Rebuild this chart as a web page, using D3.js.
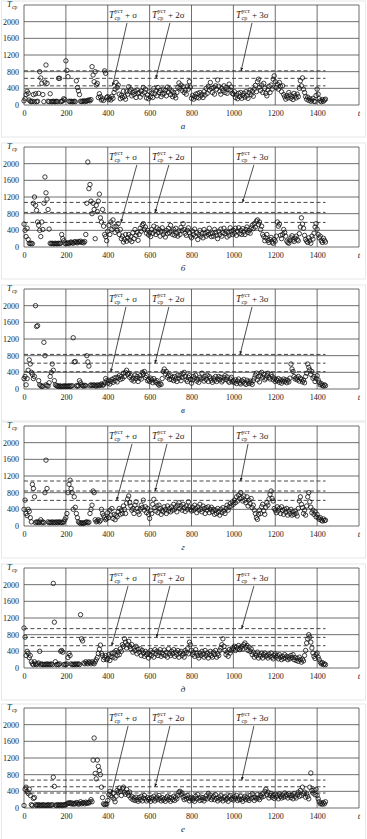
<!DOCTYPE html>
<html>
<head>
<meta charset="utf-8">
<script src="https://cdn.jsdelivr.net/npm/d3@7"></script>
<style>
  body { margin: 0; background: #fff; }
  text { font-family: "Liberation Serif", "DejaVu Serif", serif; fill: #222; }
</style>
</head>
<body>
<svg id="chart" width="367" height="839"></svg>
<script>
// time axis (minutes), one value every 5 min
const times = d3.range(0, 1441, 5);

const seriesA = [
  100,150,250,330,280,120,90,80,90,250,80,270,80,90,280,800,650,520,250,80,
  550,960,520,90,80,270,80,80,90,80,80,90,80,640,640,80,90,100,150,130,
  1060,830,680,90,80,90,80,80,90,80,580,420,340,250,90,80,90,100,80,100,
  90,110,120,100,130,920,720,560,800,480,520,180,270,200,120,150,110,820,760,180,
  200,130,170,120,210,160,300,380,540,420,480,260,150,230,180,330,200,140,320,260,
  440,330,380,220,300,250,330,180,360,280,300,190,330,260,420,300,380,170,240,150,
  320,200,280,180,400,270,340,220,420,300,350,200,260,380,280,350,220,430,310,390,
  250,340,200,300,230,170,300,420,530,400,480,350,440,300,360,260,450,380,560,430,
  160,230,140,200,260,180,280,170,300,220,260,180,320,240,400,280,450,360,540,400,
  300,420,260,460,380,600,450,330,260,400,340,460,300,420,280,380,500,360,430,280,
  260,320,180,240,150,280,200,300,160,230,280,190,320,220,160,300,360,250,330,210,
  380,470,320,560,620,430,350,480,300,520,400,280,220,360,450,300,480,380,620,700,
  560,420,500,380,540,450,320,460,250,200,140,220,170,300,240,160,200,130,280,220,
  170,260,200,400,580,460,650,380,300,200,140,190,110,150,90,120,160,90,80,230,
  380,260,150,100,80,130,90,120,140
];

const seriesB = [
  550,400,250,450,180,90,80,90,80,1050,1200,1000,880,600,520,400,250,600,420,1050,
  1680,1300,1150,900,430,90,80,90,80,80,90,80,80,90,80,90,300,200,150,90,
  80,100,90,80,110,120,100,90,120,130,110,100,130,120,140,110,120,100,130,300,
  1050,2040,1400,1500,1100,800,1050,900,200,1000,850,1100,1270,700,600,900,500,300,250,150,
  380,520,300,600,420,650,480,350,500,400,560,300,420,200,260,120,180,300,140,220,
  300,170,250,130,340,200,420,280,350,160,300,450,380,520,560,420,480,330,400,290,
  350,250,420,330,500,380,300,460,350,420,260,380,460,300,360,240,400,320,450,340,
  520,380,300,420,280,450,330,260,380,300,470,400,560,420,330,280,400,460,340,260,
  220,380,300,430,260,340,180,300,400,260,320,220,420,330,260,360,300,450,320,250,
  330,260,420,350,280,200,380,300,430,260,340,450,320,380,240,350,280,460,380,300,
  400,330,450,280,380,460,320,400,300,440,360,300,420,480,350,400,330,460,520,440,
  560,480,620,650,540,600,420,500,300,250,150,220,300,160,110,180,230,120,90,180,
  140,260,600,500,550,280,200,300,420,350,260,140,110,90,160,220,270,170,130,210,
  260,180,150,320,480,700,550,450,280,180,140,110,220,150,90,260,190,330,480,560,
  430,300,220,260,150,110,210,160,120
];

const seriesC = [
  250,300,100,250,450,700,600,400,350,250,300,2000,1500,1520,200,100,80,60,70,1120,
  800,100,80,70,150,300,400,600,450,200,100,80,70,60,80,60,60,70,60,80,
  60,70,60,80,60,70,80,1230,650,660,80,70,80,200,150,100,80,70,90,80,
  800,650,550,80,100,80,90,100,80,70,100,90,80,100,120,90,100,150,250,200,
  140,210,120,180,230,160,260,200,280,170,270,320,230,300,250,380,300,400,450,350,
  380,280,320,220,260,190,330,250,300,180,260,320,240,400,350,420,280,320,200,230,
  180,260,220,150,250,190,160,200,120,90,130,110,250,420,480,360,420,280,320,230,
  320,230,280,200,300,240,180,330,260,320,200,280,360,400,300,220,180,280,320,230,
  140,220,300,260,330,190,230,160,280,240,380,260,190,300,230,330,180,300,260,210,
  160,260,210,300,180,240,300,220,280,170,210,270,320,230,290,190,160,240,280,170,
  200,160,220,130,190,240,150,120,200,170,230,140,110,210,170,130,190,150,110,200,
  260,330,380,220,300,170,320,400,280,350,220,260,320,380,280,240,350,300,220,260,
  180,230,200,250,160,220,140,190,240,180,220,150,210,170,260,600,480,420,300,240,
  270,220,300,190,260,230,170,210,150,300,380,600,520,460,350,420,260,300,180,250,
  320,220,160,100,130,90,70,100,80
];

const seriesD = [
  400,620,300,250,400,350,200,100,1000,900,700,80,100,90,80,100,150,80,100,80,
  800,1580,900,100,80,90,80,100,80,90,80,100,80,90,100,80,90,80,100,150,
  200,300,800,1000,1100,900,800,400,700,450,300,200,100,80,60,80,70,60,80,90,
  100,80,90,300,400,500,840,800,150,100,120,150,100,130,400,300,250,200,150,180,
  320,200,380,260,420,180,280,150,260,220,340,420,280,380,300,480,400,300,550,650,
  720,560,480,380,420,300,500,580,420,340,280,400,500,440,620,380,460,320,420,280,
  180,380,300,520,640,440,360,480,320,500,420,280,380,340,460,400,300,480,360,420,
  340,460,380,520,400,460,340,500,560,420,480,380,520,440,350,480,400,580,460,400,
  360,450,380,500,420,320,460,380,520,400,340,480,420,300,440,380,460,320,400,450,
  340,400,280,380,300,420,340,260,400,320,440,360,300,420,500,380,460,540,480,580,
  520,620,560,700,600,740,660,800,680,600,720,620,560,700,480,620,540,660,440,500,
  380,300,200,160,280,380,300,460,520,360,280,450,560,500,650,760,840,660,600,420,
  380,320,460,360,420,300,460,380,280,400,330,420,260,360,300,400,260,340,280,360,
  300,240,420,600,700,520,440,300,380,260,480,700,800,580,450,320,380,280,340,220,
  280,200,160,200,140,120,170,130,140
];

const seriesE = [
  960,740,300,400,350,250,300,150,100,80,150,100,80,100,120,400,80,100,80,80,
  90,80,100,80,90,80,100,80,2030,1100,150,80,90,80,100,400,420,380,80,90,
  80,100,250,350,300,100,80,90,80,100,80,90,100,80,1280,700,650,120,100,150,
  120,100,150,130,100,150,120,100,150,200,250,350,450,550,350,300,200,250,300,200,
  220,320,180,280,350,260,380,240,420,300,380,320,460,400,560,520,700,620,480,560,
  640,520,460,560,380,480,420,520,340,450,380,460,300,420,360,280,400,320,360,240,
  320,420,300,380,260,440,340,400,300,380,440,280,360,320,430,300,380,260,460,350,
  300,400,340,440,280,380,320,420,260,360,400,300,340,260,420,370,460,340,620,560,
  420,320,380,280,440,360,300,240,360,300,400,330,260,420,300,360,240,320,400,300,
  260,380,320,420,260,340,300,420,480,560,700,520,420,320,380,280,440,360,420,480,
  460,520,420,500,460,540,440,480,520,460,560,600,500,540,420,500,400,460,320,380,
  260,340,300,380,240,320,280,360,240,320,360,280,300,240,330,280,360,260,220,300,
  340,260,300,220,320,260,200,280,230,320,240,280,200,260,220,300,250,320,200,250,
  180,230,160,260,200,140,210,170,300,420,600,700,800,740,620,480,360,280,230,320,
  360,260,200,140,100,130,80,100,80
];

const seriesF = [
  60,450,500,400,350,450,300,80,60,230,250,80,60,70,80,60,70,60,80,70,
  60,70,60,80,70,60,70,80,740,520,70,60,80,70,60,80,70,60,80,70,
  80,100,120,110,130,100,120,90,110,100,130,120,90,110,150,100,120,130,100,140,
  110,130,120,150,200,150,1150,1680,830,700,1150,1000,900,800,500,250,100,80,90,100,
  180,320,400,300,260,350,220,150,280,420,380,480,400,300,460,500,380,330,450,360,
  300,380,240,280,200,240,180,260,200,160,250,200,280,170,240,300,220,170,250,200,
  230,160,250,210,280,170,220,260,200,300,230,170,250,190,220,160,240,280,200,250,
  160,240,200,280,180,260,220,300,380,400,320,360,260,200,280,220,300,240,170,230,
  260,190,230,160,280,220,320,240,180,260,200,250,170,230,290,220,350,260,310,200,
  240,280,200,320,230,170,260,210,290,220,170,250,280,200,230,160,270,300,210,240,
  190,270,230,300,180,240,200,280,210,160,240,280,200,260,220,180,300,230,340,250,
  180,260,220,320,240,200,300,260,340,280,400,450,320,380,240,300,350,260,300,230,
  330,260,300,220,340,280,240,310,260,360,280,320,240,340,300,250,300,220,350,280,
  240,320,380,280,420,300,500,340,380,260,340,280,220,500,840,420,360,430,320,450,
  300,220,150,100,120,90,130,100,150
];

const allSeries = [seriesA, seriesB, seriesC, seriesD, seriesE, seriesF];
const panelLetters = ["а", "б", "в", "г", "д", "е"];

const xTicks = [0, 200, 400, 600, 800, 1000, 1200, 1400];
const yTicks = [0, 400, 800, 1200, 1600, 2000];

// threshold levels T_ср^уст + σ, + 2σ, + 3σ for each panel
const sigma1 = [460, 590, 415, 615, 535, 360];
const sigma2 = [640, 830, 620, 840, 735, 510];
const sigma3 = [820, 1070, 830, 1080, 945, 670];

// where the arrows point (t) and where they start (t)
const tipT = [[423, 630, 1037], [463, 626, 1044], [415, 626, 1032], [443, 626, 1035], [419, 633, 1040], [419, 626, 1040]];
const startT = [[492, 697, 1089], [539, 692, 1098], [487, 692, 1089], [516, 683, 1070], [497, 697, 1098], [497, 697, 1098]];

const zeroY = [105, 247, 389, 526, 668, 808];
const plotH = 100;

const svg = d3.select("#chart");

svg.append("defs").append("marker")
    .attr("id", "arrow")
    .attr("viewBox", "0 0 10 10")
    .attr("refX", 9).attr("refY", 5)
    .attr("markerWidth", 4.5).attr("markerHeight", 4.5)
    .attr("orient", "auto")
  .append("path")
    .attr("d", "M0,1 L10,5 L0,9 z")
    .attr("fill", "#222");

const x = d3.scaleLinear().domain([0, 1600]).range([24, 359]);

const drawLabel = (g, lx, ly, suffix) => {
    g.append("text").attr("x", lx).attr("y", ly)
        .attr("font-size", 9.5).attr("font-style", "italic").text("T");
    g.append("text").attr("x", lx + 5.5).attr("y", ly - 4.5)
        .attr("font-size", 6).text("уст");
    g.append("text").attr("x", lx + 5.5).attr("y", ly + 2)
        .attr("font-size", 6).text("ср");
    g.append("text").attr("x", lx + 16).attr("y", ly)
        .attr("font-size", 9).text(suffix);
};

allSeries.forEach((series, i) => {
    const z = zeroY[i];
    const y = d3.scaleLinear().domain([0, 2400]).range([z, z - plotH]);
    const g = svg.append("g").attr("class", "panel");

    // faint frame around the panel
    g.append("rect")
        .attr("x", 1.5).attr("y", z - plotH - 4)
        .attr("width", 364).attr("height", plotH + 36)
        .attr("fill", "none").attr("stroke", "#e2e2e2").attr("stroke-width", 0.8);

    // grid
    g.selectAll("line.hgrid")
        .data(d3.range(0, 2401, 400))
        .enter().append("line")
        .attr("class", "hgrid")
        .attr("x1", x(0)).attr("x2", x(1600))
        .attr("y1", d => y(d)).attr("y2", d => y(d))
        .attr("stroke", "#4a4a4a").attr("stroke-width", 0.8);

    g.selectAll("line.vgrid")
        .data(d3.range(0, 1601, 200))
        .enter().append("line")
        .attr("class", "vgrid")
        .attr("x1", d => x(d)).attr("x2", d => x(d))
        .attr("y1", y(0)).attr("y2", y(2400))
        .attr("stroke", "#4a4a4a").attr("stroke-width", 0.8);

    // threshold lines
    g.selectAll("line.thr")
        .data([sigma1[i], sigma2[i], sigma3[i]])
        .enter().append("line")
        .attr("class", "thr")
        .attr("x1", x(0)).attr("x2", x(1440))
        .attr("y1", d => y(d)).attr("y2", d => y(d))
        .attr("stroke", "#333").attr("stroke-width", 0.9)
        .attr("stroke-dasharray", "4,2.5");

    // axes (labels only)
    const yAxis = g.append("g")
        .attr("transform", "translate(" + x(0) + ",0)")
        .call(d3.axisLeft(y).tickValues(yTicks).tickFormat(d3.format("d")).tickSize(0).tickPadding(5));
    const xAxis = g.append("g")
        .attr("transform", "translate(0," + z + ")")
        .call(d3.axisBottom(x).tickValues(xTicks).tickFormat(d3.format("d")).tickSize(0).tickPadding(5));
    [yAxis, xAxis].forEach(a => {
        a.select(".domain").remove();
        a.selectAll("text")
            .attr("font-family", "'Liberation Serif', serif")
            .attr("font-size", 8).attr("fill", "#222");
    });

    g.append("text").attr("x", x(1600)).attr("y", z + 11)
        .attr("text-anchor", "middle").attr("font-size", 8.5)
        .attr("font-style", "italic").text("t");

    g.append("text").attr("x", 7).attr("y", z - 98)
        .attr("font-size", 8.5).attr("font-style", "italic").text("T");
    g.append("text").attr("x", 12).attr("y", z - 96)
        .attr("font-size", 5.5).text("ср");

    g.append("text").attr("x", 183).attr("y", z + 24)
        .attr("text-anchor", "middle").attr("font-size", 9)
        .attr("font-style", "italic").text(panelLetters[i]);

    // points
    g.append("g").selectAll("circle")
        .data(series.map((v, k) => ({t: times[k], v: v})))
        .enter().append("circle")
        .attr("cx", d => x(d.t))
        .attr("cy", d => y(d.v))
        .attr("r", 2.2)
        .attr("fill", "none")
        .attr("stroke", "#111")
        .attr("stroke-width", 0.8);

    // annotations
    const labelY = y(2090);
    drawLabel(g, 109, labelY, "+ σ");
    drawLabel(g, 152, labelY, "+ 2σ");
    drawLabel(g, 236, labelY, "+ 3σ");

    const levels = [sigma1[i], sigma2[i], sigma3[i]];
    levels.forEach((lv, k) => {
        g.append("line")
            .attr("x1", x(startT[i][k])).attr("y1", y(1970))
            .attr("x2", x(tipT[i][k])).attr("y2", y(lv))
            .attr("stroke", "#222").attr("stroke-width", 0.8)
            .attr("marker-end", "url(#arrow)");
    });
});
</script>
</body>
</html>
